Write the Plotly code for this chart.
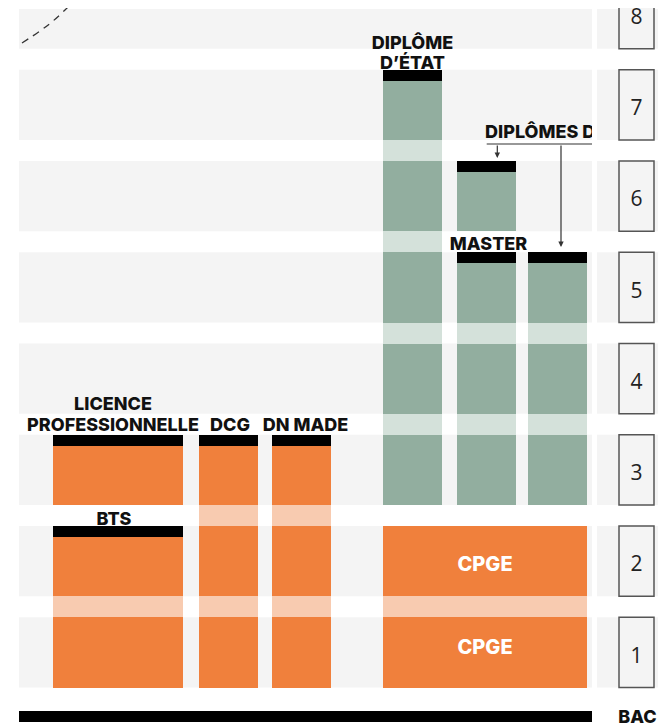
import plotly.graph_objects as go

# ---------------- data ----------------
levels = [1, 2, 3, 4, 5, 6, 7, 8]
level_labels = ["1", "2", "3", "4", "5", "6", "7", "8"]
base_label = "BAC"

columns = ["BTS / Licence pro", "DCG", "DN MADE", "CPGE",
           "Diplôme d'État", "Master / Diplômes d'école", "Master / Diplômes d'école"]
col_family = ["court", "court", "court", "court", "long", "long", "long"]
col_start = [0, 0, 0, 0, 2, 2, 2]
col_end = [3, 3, 3, 2, 7, 6, 5]

diploma_col = [0, 0, 1, 2, 4, 5, 5, 6]
diploma_level = [2, 3, 3, 3, 7, 6, 5, 5]

label_lines = ["LICENCE", "PROFESSIONNELLE", "BTS", "DCG", "DN MADE",
               "DIPLÔME", "D’ÉTAT", "MASTER"]
cpge_text = "CPGE"
cpge_rows = [1, 2]
ecole_text = "DIPLÔMES D’ÉCOLE"

# ---------------- layout / style ----------------
OFF = 8                      # page body margin
W, H = 666 - OFF, 724 - OFF
PX_PER_Y = 91.25
Y0_PX = 698.1                # reference pixel of level 0
TXT_DY = 2.5                 # text baseline correction (px)


def ypx(p):
    return (Y0_PX - p) / PX_PER_Y


G = 0.115          # half gap between rows
CAP = 0.12         # diploma cap thickness
Y_TOP, Y_BOT = ypx(OFF), ypx(724)
BAND_TOP_CLIP = ypx(9)
col_center = [99, 209.5, 282.5, 466, 393.5, 467.5, 538.5]
col_width = [130, 59, 59, 204, 59, 59, 59]
solid = {"court": "#F0803C", "long": "#92AE9F"}
light = {"court": "#F8CBB0", "long": "#D4E1DA"}
GREY = "#F4F4F4"
FONT = "Inter"

label_pos = [(94, ypx(403 + TXT_DY)), (94, ypx(424 + TXT_DY)), (95, ypx(518 + TXT_DY)),
             (211, ypx(424 + TXT_DY)), (286.5, ypx(424 + TXT_DY)), (393.5, ypx(42 + TXT_DY)),
             (393.5, ypx(62 + TXT_DY)), (469.5, ypx(243 + TXT_DY))]
cpge_y = {1: ypx(646 + TXT_DY), 2: ypx(563 + TXT_DY)}

fig = go.Figure()

# background bands
shapes = []
for k in levels:
    y0, y1 = k - 1 + G, min(k - G, BAND_TOP_CLIP)
    for xr in ("x domain", "x2 domain"):
        shapes.append(dict(type="rect", xref=xr, yref="y", x0=0, x1=1, y0=y0, y1=y1,
                           fillcolor=GREY, line_width=0, layer="below"))
    shapes.append(dict(type="rect", xref="x2", yref="y", x0=22, x1=57, y0=k - 1 + G, y1=k - G,
                       fillcolor=GREY, line=dict(color="#555555", width=1.5), layer="below"))

# bar segments
dipl_set = set(zip(diploma_col, diploma_level))
segs = {}
for i, _ in enumerate(columns):
    fam = col_family[i]
    for k in range(col_start[i] + 1, col_end[i] + 1):
        segs.setdefault(solid[fam], []).append((col_center[i], col_width[i], k - 1 + G, 1 - 2 * G))
    for k in range(col_start[i] + 1, col_end[i]):
        if (i, k) not in dipl_set:
            segs.setdefault(light[fam], []).append((col_center[i], col_width[i], k - G, 2 * G))
for c, k in zip(diploma_col, diploma_level):
    segs.setdefault("#000000", []).append((col_center[c], col_width[c], k - G - CAP, CAP))
# BAC baseline
segs["#000000"].append((286.5, 573, ypx(722), ypx(711) - ypx(722)))

for color, lst in segs.items():
    fig.add_trace(go.Bar(
        x=[s[0] for s in lst], width=[s[1] for s in lst],
        base=[s[2] for s in lst], y=[s[3] for s in lst],
        marker=dict(color=color, line_width=0), hoverinfo="skip", showlegend=False,
        xaxis="x", yaxis="y"))

# labels above diplomas
bold = dict(family=FONT, size=18, color="#111111", weight=800)
fig.add_trace(go.Scatter(
    x=[p[0] for p in label_pos], y=[p[1] for p in label_pos], text=label_lines,
    mode="text", textposition="middle center", textfont=bold,
    hoverinfo="skip", showlegend=False, cliponaxis=True))
fig.add_trace(go.Scatter(
    x=[col_center[3]] * len(cpge_rows), y=[cpge_y[r] for r in cpge_rows],
    text=[cpge_text] * len(cpge_rows), mode="text", textposition="middle center",
    textfont=dict(family=FONT, size=20, color="white", weight=800),
    hoverinfo="skip", showlegend=False))
fig.add_trace(go.Scatter(
    x=[466], y=[ypx(131 + TXT_DY)], text=[ecole_text], mode="text", textposition="middle right",
    textfont=bold, hoverinfo="skip", showlegend=False, cliponaxis=True))

# connector lines
fig.add_trace(go.Scatter(x=[467.7, 600], y=[ypx(144), ypx(144)], mode="lines",
                         line=dict(color="#333333", width=1.2), hoverinfo="skip",
                         showlegend=False, cliponaxis=True))
annotations = []
for xx, tip in [(478.3, ypx(158)), (542, ypx(247))]:
    annotations.append(dict(x=xx, y=tip, ax=xx, ay=ypx(144), xref="x", yref="y", axref="x", ayref="y",
                            text="", showarrow=True, arrowhead=2, arrowsize=0.9, arrowwidth=1.2,
                            arrowcolor="#333333"))

# decorative dashed curve
fig.add_trace(go.Scatter(x=[3, 21, 34, 46, 56],
                         y=[ypx(43), ypx(31), ypx(21), ypx(10), ypx(0)], mode="lines",
                         line=dict(color="#333333", width=1.3, dash="7px,6px", shape="spline"),
                         hoverinfo="skip", showlegend=False, cliponaxis=True))

# right column numbers
fig.add_trace(go.Scatter(
    x=[39.5] * len(levels), y=[k - 0.5 - 5 / PX_PER_Y for k in levels], text=level_labels,
    mode="text", textposition="middle center",
    textfont=dict(family="Open Sans", size=21, color="#222222"),
    xaxis="x2", yaxis="y", hoverinfo="skip", showlegend=False, cliponaxis=True))
fig.add_trace(go.Scatter(
    x=[40.5], y=[ypx(718)], text=[base_label], mode="text", textposition="middle center",
    textfont=bold, xaxis="x2", yaxis="y", hoverinfo="skip", showlegend=False, cliponaxis=True))

fig.update_layout(
    width=W, height=H, margin=dict(l=0, r=0, t=0, b=0),
    paper_bgcolor="white", plot_bgcolor="white",
    barmode="overlay", bargap=0,
    xaxis=dict(domain=[(19 - OFF) / W, (592 - OFF) / W], range=[0, 573], visible=False,
               anchor="y", fixedrange=True),
    xaxis2=dict(domain=[(597 - OFF) / W, 1], range=[0, 69], visible=False, anchor="y",
                fixedrange=True),
    yaxis=dict(domain=[0, 1], range=[Y_BOT, Y_TOP], visible=False, fixedrange=True),
    shapes=shapes, annotations=annotations,
)

fig.write_html("out.html")
